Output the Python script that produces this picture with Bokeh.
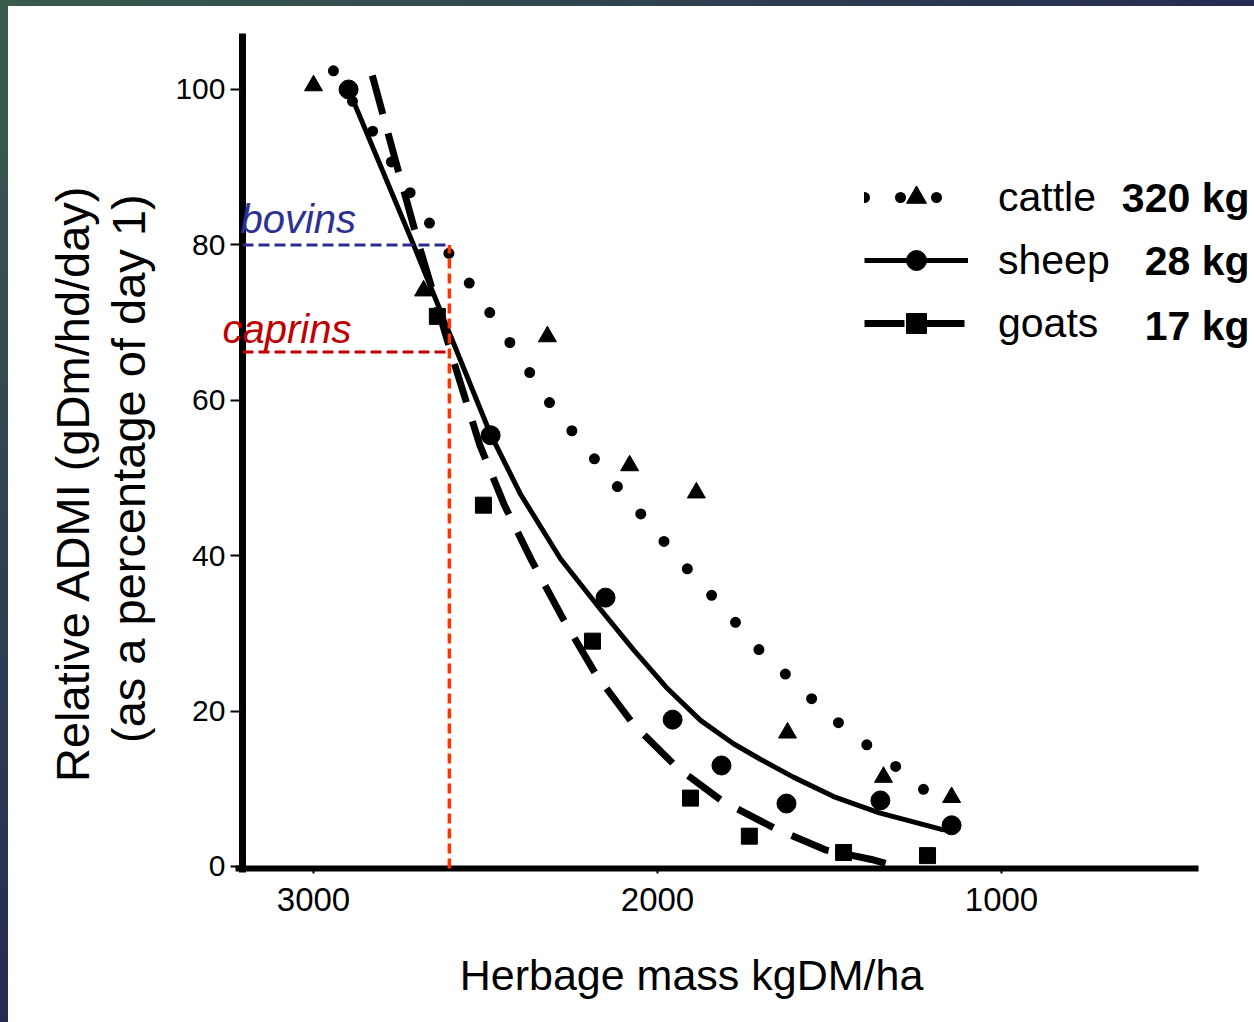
from math import pi
from bokeh.plotting import figure
from bokeh.models import Range1d, FixedTicker, Label, Legend, LegendItem, Div
from bokeh.layouts import column, row
from bokeh.embed import file_html
from bokeh.resources import INLINE

# ---- data ----
x_ticks = [1000, 2000, 3000]
y_ticks = [0, 20, 40, 60, 80, 100]

cattle_x = [3000, 2680, 2320, 2081, 1887, 1622, 1343, 1145]
cattle_y = [100.5, 74.1, 68.2, 51.6, 48.1, 17.2, 11.5, 8.9]
cattle_fit_x = [2942, 2887, 2826, 2712, 2654, 2599, 2538, 2480, 2424, 2360, 2302, 2238,
                2166, 2090, 2012, 1936, 1863, 1788, 1712, 1634, 1552, 1474, 1390, 1299, 1215]
cattle_fit_y = [102.4, 98.5, 94.5, 86.2, 82.2, 78.4, 74.5, 70.8, 67.1, 62.8, 58.9, 55.5,
                51.5, 47.5, 43.5, 39.4, 35.9, 32.2, 28.2, 25.0, 21.6, 18.5, 15.6, 12.6, 9.5]

sheep_x = [2898, 2485, 2151, 1956, 1814, 1625, 1352, 1145]
sheep_y = [100.0, 55.5, 34.6, 18.9, 13.0, 8.1, 8.5, 5.3]
sheep_fit_x = [2898, 2709, 2485, 2398, 2282, 2166, 2070, 1971, 1875, 1779, 1701, 1605,
               1488, 1355, 1177, 1145]
sheep_fit_y = [100.0, 80.0, 55.6, 47.9, 39.6, 33.1, 27.9, 22.9, 18.8, 15.8, 13.8, 11.5,
               9.0, 6.9, 4.8, 4.6]

goats_x = [2640, 2506, 2189, 1904, 1733, 1459, 1215]
goats_y = [70.8, 46.5, 29.0, 8.8, 3.9, 1.8, 1.4]
goat_fit_x = [2829, 2762, 2695, 2596, 2517, 2445, 2366, 2276, 2180, 2070, 1942, 1811,
              1654, 1509, 1378, 1337]
goat_fit_y = [101.8, 90.9, 80.2, 65.5, 54.3, 46.5, 39.4, 32.0, 24.8, 18.3, 12.7, 8.4,
              4.8, 2.1, 0.9, 0.4]

series_names = ["cattle", "sheep", "goats"]
series_weights = ["320 kg", "28 kg", "17 kg"]

ref_herbage = 2605
bovins_level = 80
caprins_level = 66.2

# ---- figure (frame covers the whole canvas; axes are pinned inside) ----
x_lo, x_hi = 3886.6, 264.5
y_lo, y_hi = -20.08, 110.68
axis_x0, axis_x1 = 3226.7, 427.3      # extent of the horizontal axis line
axis_y0, axis_y1 = -0.772, 107.21     # extent of the vertical axis line
xaxis_at = -0.257
yaxis_at = 3206.4

p = figure(width=1246, height=1016, output_backend="svg", toolbar_location=None,
           x_range=Range1d(x_lo, x_hi), y_range=Range1d(y_lo, y_hi),
           min_border_left=0, min_border_right=0, min_border_top=0,
           min_border_bottom=0)
p.outline_line_color = None
p.grid.visible = False
p.background_fill_color = "white"
p.border_fill_color = "white"

for ax in (p.xaxis[0], p.yaxis[0]):
    ax.axis_line_color = None
    ax.major_tick_line_width = 2
    ax.major_tick_line_color = "black"
    ax.minor_tick_line_color = None
    ax.major_tick_in = 0
    ax.major_label_text_font = "Liberation Sans"
    ax.major_label_text_color = "black"
p.xaxis.fixed_location = xaxis_at
p.yaxis.fixed_location = yaxis_at
p.xaxis.ticker = FixedTicker(ticks=x_ticks)
p.yaxis.ticker = FixedTicker(ticks=y_ticks)
p.xaxis.major_tick_out = 5
p.yaxis.major_tick_out = 12
p.xaxis.major_label_standoff = 15
p.yaxis.major_label_standoff = 5
p.xaxis.major_label_text_font_size = "33px"
p.yaxis.major_label_text_font_size = "30px"

# axis lines
p.line([axis_x0, axis_x1], [xaxis_at, xaxis_at], line_width=6, line_color="black")
p.line([yaxis_at, yaxis_at], [axis_y0, axis_y1], line_width=7, line_color="black")

# curves and points
r_cfit = p.line(cattle_fit_x, cattle_fit_y, line_width=11, line_dash="0 36",
                line_cap="round", line_color="black")
r_cpts = p.scatter(cattle_x, cattle_y, marker="triangle", size=18, color="black")
r_sfit = p.line(sheep_fit_x, sheep_fit_y, line_width=5, line_color="black",
                line_join="round")
r_spts = p.scatter(sheep_x, sheep_y, marker="circle", size=19, color="black")
r_gfit = p.line(goat_fit_x, goat_fit_y, line_width=7, line_dash="40 20",
                line_color="black", line_join="round")
r_gpts = p.scatter(goats_x, goats_y, marker="square", size=16, color="black")

# reference lines
p.line([yaxis_at, ref_herbage], [bovins_level, bovins_level], line_color="#2B2B8C",
       line_width=3, line_dash="11 5")
p.line([yaxis_at, ref_herbage], [caprins_level, caprins_level], line_color="#C00000",
       line_width=3, line_dash="11 5")
p.line([ref_herbage, ref_herbage], [xaxis_at, bovins_level], line_color="#FF3300",
       line_width=3.5, line_dash="10 5")

legend = Legend(items=[LegendItem(label=series_names[0], renderers=[r_cfit, r_cpts]),
                       LegendItem(label=series_names[1], renderers=[r_sfit, r_spts]),
                       LegendItem(label=series_names[2], renderers=[r_gfit, r_gpts])],
                location=(856, 674), orientation="vertical", glyph_width=104,
                glyph_height=50, label_height=50, spacing=13, label_standoff=30,
                padding=0, margin=0, border_line_color=None, background_fill_alpha=0,
                label_text_font="Liberation Sans", label_text_font_size="41px",
                label_text_color="black")
p.add_layout(legend)

for w, yv in zip(series_weights, [86.0, 77.9, 69.6]):
    p.add_layout(Label(x=279, y=yv, text=w, text_align="right", text_baseline="middle",
                       text_font="Liberation Sans", text_font_style="bold",
                       text_font_size="41px", text_color="black"))

p.add_layout(Label(x=3212.2, y=83.3, text="bovins", text_baseline="middle",
                   text_font="Liberation Sans", text_font_style="italic",
                   text_font_size="40px", text_color="#2E3192"))
p.add_layout(Label(x=3264.5, y=69.2, text="caprins", text_baseline="middle",
                   text_font="Liberation Sans", text_font_style="italic",
                   text_font_size="40px", text_color="#C00000"))

# axis titles
p.add_layout(Label(x=3700.6, y=50.2, text="Relative ADMI  (gDm/hd/day)", angle=pi / 2,
                   text_align="center", text_baseline="middle",
                   text_font="Liberation Sans", text_font_size="47px", text_color="black"))
p.add_layout(Label(x=3537.8, y=51.2, text="(as a percentage of day 1)", angle=pi / 2,
                   text_align="center", text_baseline="middle",
                   text_font="Liberation Sans", text_font_size="47px", text_color="black"))
p.add_layout(Label(x=1883.7, y=-13.98, text="Herbage mass  kgDM/ha", text_align="center",
                   text_baseline="middle", text_font="Liberation Sans",
                   text_font_size="43px", text_color="black"))

top_strip = Div(text="", width=1254, height=6, margin=0,
                styles={"background": "linear-gradient(to right, #3b5b4d, #252b52)"})
left_strip = Div(text="", width=8, height=1016, margin=0,
                 styles={"background": "linear-gradient(to bottom, #3b5b4d, #262b52)"})
page = column(top_strip, row(left_strip, p, spacing=0), spacing=0)

open("out.html", "w").write(file_html(page, INLINE))
